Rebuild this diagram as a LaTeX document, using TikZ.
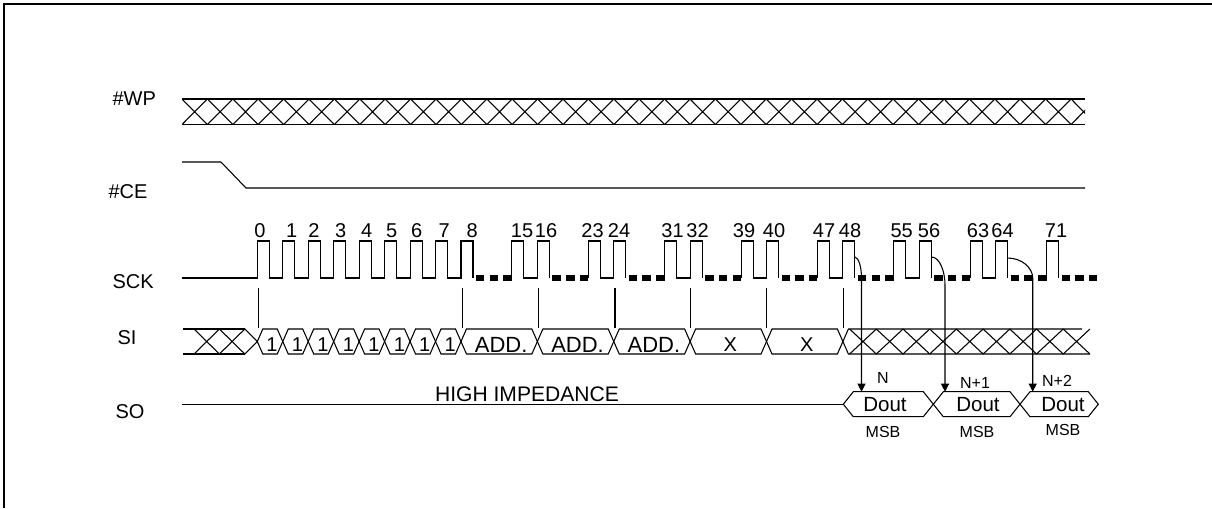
\documentclass[tikz,border=0pt]{standalone}
\usepackage{fontspec}
\setmainfont{Liberation Sans}
\usetikzlibrary{arrows.meta}
\begin{document}
\begin{tikzpicture}[x=0.75pt,y=-0.75pt,line width=0.8pt,
  lbl/.style={font=\fontsize{15}{18}\selectfont,inner sep=0pt},
  big/.style={font=\fontsize{16.5}{19}\selectfont,inner sep=0pt},
  sml/.style={font=\fontsize{12}{14}\selectfont,inner sep=0pt},
  dots/.style={line width=4pt,dash pattern=on 6.3pt off 4pt},
  arr/.style={-{Triangle[length=6pt,width=6pt]}}]
\useasboundingbox (0,0) rectangle (1212,508);
\draw[line width=1.5pt] (4,508) -- (4,3.5) -- (1212,3.5);
% row labels
\node[lbl,anchor=west] (lwp) at (112,99) {\#WP};
\node[lbl,anchor=west] (lce) at (108,191.5) {\#CE};
\node[lbl,anchor=west] (lsck) at (112,281.5) {SCK};
\node[lbl,anchor=west] (lsi) at (117,337.5) {SI};
\node[lbl,anchor=west] (lso) at (115,411.5) {SO};
% WP
\draw (182,99) -- (1085,99) (182,124.5) -- (1085,124.5);
\begin{scope}
\clip (182,95) rectangle (1085,128);
\foreach \i in {0,...,35} {\draw ({182+25.4*\i},99) -- ++(25.4,25.5) ({182+25.4*\i},124.5) -- ++(25.4,-25.5);}
\end{scope}
% CE
\draw (182,162) -- (221,162) -- (246,188) -- (1085,188);
% SCK
\draw (182,278) \foreach \r in {257.3,282.76,308.22,333.68,359.14,384.6,410.06,435.52,460.98} { -- (\r,278) -- (\r,241) -- ({\r+12},241) -- ({\r+12},278) };
\foreach \a in {511.9,588.28,664.66,741.04,817.42,893.8,970.18}
  {\draw (\a,278) -- ++(0,-37) -- ++(12,0) -- ++(0,37) -- ++(13.46,0) -- ++(0,-37) -- ++(12,0) -- ++(0,37);}
\draw (1046.56,278) -- ++(0,-37) -- ++(12,0) -- ++(0,37);
\foreach \a/\b in {476/511.9,552.36/588.28,628.74/664.66,705.12/741.04,781.5/817.42,857.88/893.8,934.26/970.18,1010.64/1046.56,1061.56/1100}
  {\draw[dots] (\a,278) -- (\b,278);}
% clock numbers
\foreach \x/\t [count=\k] in {260/0,291.7/1,314/2,340.7/3,366.7/4,391.7/5,416.7/6,444.3/7,472.2/8,522/15,546/16,592.5/23,619/24,672.5/31,697.5/32,744/39,774/40,824/47,850/48,901.7/55,929/56,978/63,1002.5/64,1056/71}
  {\node[lbl] (clk\k) at (\x,231) {\t};}
% ticks
\foreach \x in {258.3,462.3,538.3,615,690.7,766.7,843.3} {\draw (\x,288) -- (\x,328);}
% SI
\draw (183,329) -- (244.8,329) (183,354) -- (244.8,354);
\draw (194,329) -- (219.4,354) -- (244.8,329) -- (257.3,341.5) -- (244.8,354) -- (219.4,329) -- (194,354);
\foreach \l/\r/\t/\s [count=\k] in {257.3/282.76/1/lbl,282.76/308.22/1/lbl,308.22/333.68/1/lbl,333.68/359.14/1/lbl,359.14/384.6/1/lbl,384.6/410.06/1/lbl,410.06/435.52/1/lbl,435.52/460.98/1/lbl,460.98/537.36/ADD./big,537.36/613.74/ADD./big,613.74/690.12/ADD./big,690.12/766.5/X/lbl,766.5/842.88/X/lbl}
  {\draw (\l,341.5) -- ({\l+5.5},329) -- ({\r-5.5},329) -- (\r,341.5) -- ({\r-5.5},354) -- ({\l+5.5},354) -- cycle;
   \node[\s] (si\k) at ({(\l+\r)/2+2},344.5) {\t};}
\draw (842.88,341.5) -- (848.4,329) -- (1082,329);
\draw (842.88,341.5) -- (848.4,354) -- (1090,354);
\begin{scope}
\clip (849,327) rectangle (1090,356);
\foreach \i in {0,...,8} {\draw ({849.6+26.7*\i},329) -- ++(26.7,25) ({849.6+26.7*\i},354) -- ++(26.7,-25);}
\end{scope}
% SO
\draw (182,404.2) -- (843.3,404.2);
\node[lbl,font=\fontsize{15.8}{18}\selectfont] (hiz) at (527,394.5) {HIGH IMPEDANCE};
\foreach \l/\r/\c [count=\k] in {843.3/933.3/885,933.3/1020/978,1020/1098.3/1063}
  {\draw (\l,404.2) -- ({\l+10},391.7) -- ({\r-10},391.7) -- (\r,404.2) -- ({\r-10},416.7) -- ({\l+10},416.7) -- cycle;
   \node[lbl,font=\fontsize{15.4}{18}\selectfont] (dout\k) at (\c,405) {Dout};}
\node[sml] (n0) at (883,378) {N};
\node[sml] (n1) at (975,383) {N+1};
\node[sml] (n2) at (1057,381) {N+2};
\node[sml] (m0) at (883,432) {MSB};
\node[sml] (m1) at (977,432) {MSB};
\node[sml] (m2) at (1063,430) {MSB};
% arrows
\coordinate (a0) at (861.5,391.7);
\coordinate (a1) at (945,391.7);
\coordinate (a2) at (1032.7,391.7);
\draw[arr] (855,257) .. controls (859,258) and (861.5,268) .. (861.5,278) -- (a0);
\draw[arr] (931.3,257) .. controls (940,257) and (945,272) .. (945,285) -- (a1);
\draw[arr] (1007.6,258) .. controls (1022,258) and (1032.7,268) .. (1032.7,278) -- (a2);
\end{tikzpicture}
\end{document}
